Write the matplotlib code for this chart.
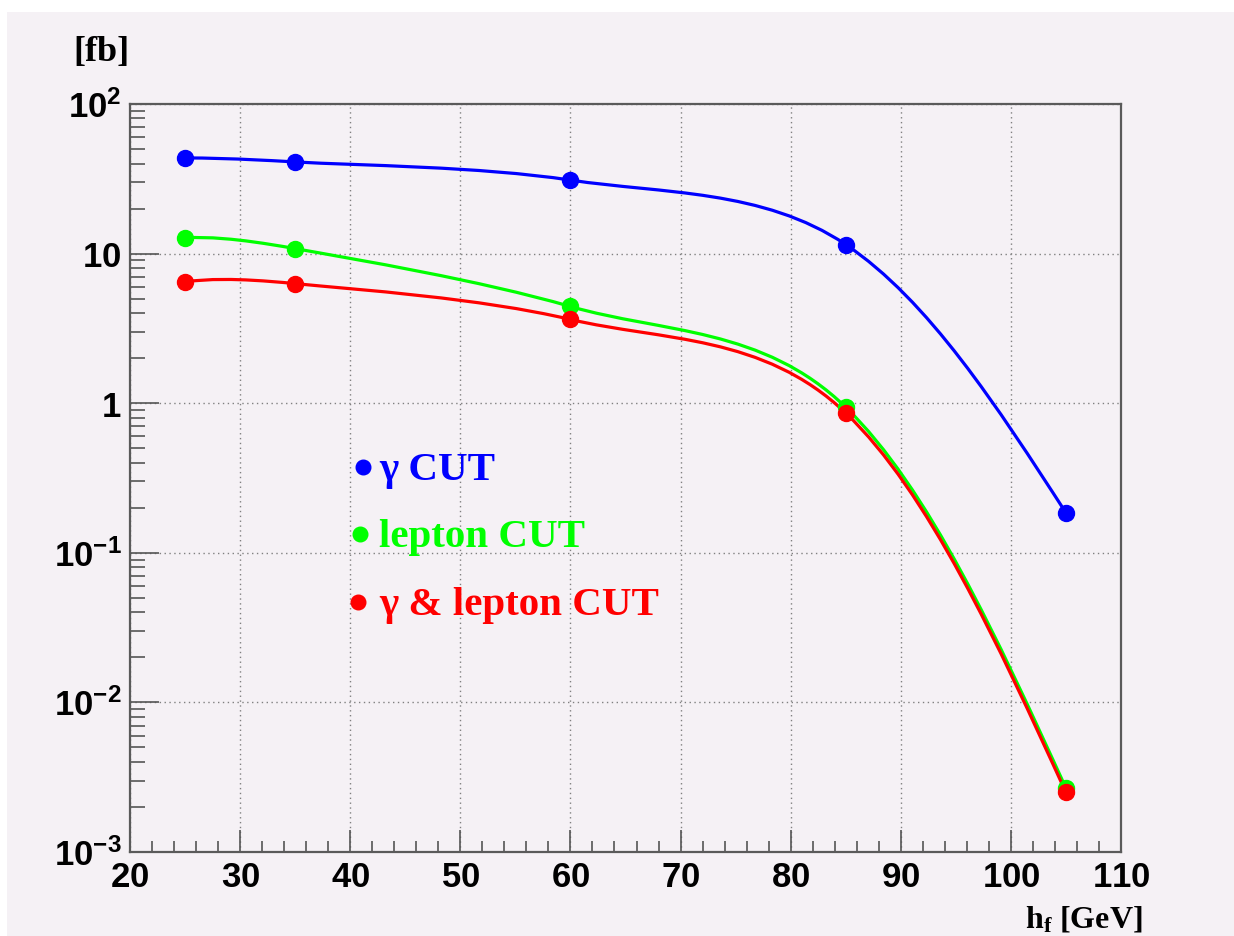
import numpy as np
import matplotlib
matplotlib.use('Agg')
import matplotlib.pyplot as plt
from matplotlib.path import Path
from matplotlib.patches import PathPatch, Rectangle
from matplotlib.lines import Line2D
from matplotlib.ticker import FixedLocator, LogLocator, NullFormatter, FuncFormatter

plt.rcParams['mathtext.fontset'] = 'custom'
plt.rcParams['mathtext.sf'] = 'Liberation Sans:bold'
plt.rcParams['mathtext.bf'] = 'Liberation Serif:bold'
plt.rcParams['mathtext.rm'] = 'Liberation Serif:bold'
plt.rcParams['axes.unicode_minus'] = False

# data
hf = [25, 35, 60, 85, 105]
gamma_cut = [43.6, 41.0, 31.0, 11.5, 0.185]
lepton_cut = [12.8, 10.8, 4.43, 0.94, 0.00267]
both_cut = [6.5, 6.3, 3.63, 0.86, 0.0025]

series = [
    (gamma_cut, '#0000ff', '\u03b3 CUT'),
    (lepton_cut, '#00ff00', 'lepton CUT'),
    (both_cut, '#ff0000', '\u03b3 & lepton CUT'),
]
bg = '#f5f1f5'
W, H = 1234, 936


def smooth_path(xs, ys):
    # hermite/bezier curve through the points in (x, log10 y), natural ends
    p = np.column_stack([np.asarray(xs, float), np.log10(ys)])
    n = len(p)
    t = np.zeros_like(p)
    for i in range(1, n - 1):
        t[i] = (p[i + 1] - p[i - 1]) / 2
    t[0] = (3 * (p[1] - p[0]) - t[1]) / 2
    t[-1] = (3 * (p[-1] - p[-2]) - t[-2]) / 2
    verts = [p[0]]
    codes = [Path.MOVETO]
    for i in range(n - 1):
        verts += [p[i] + t[i] / 3, p[i + 1] - t[i + 1] / 3, p[i + 1]]
        codes += [Path.CURVE4] * 3
    verts = np.array(verts)
    verts[:, 1] = 10 ** verts[:, 1]
    return Path(verts, codes)


fig = plt.figure(figsize=(W / 100, H / 100), dpi=100, facecolor='white')
fig.patches.append(Rectangle((7 / W, 0), 1 - 7 / W, 1 - 12 / H,
                             transform=fig.transFigure, facecolor=bg,
                             edgecolor='none', zorder=-5))

ax = fig.add_axes([130 / W, 1 - 852 / H, (1121 - 130) / W, (852 - 104) / H])
ax.set_facecolor(bg)
ax.set_yscale('log')
ax.set_xlim(20, 110)
ax.set_ylim(1e-3, 1e2)

for vals, col, lab in series:
    ax.add_patch(PathPatch(smooth_path(hf, vals), facecolor='none',
                           edgecolor=col, lw=2.3, zorder=3))
    ax.plot(hf, vals, 'o', color=col, ms=11.5, zorder=4)

ax.xaxis.set_major_locator(FixedLocator(np.arange(20, 111, 10)))
ax.xaxis.set_minor_locator(FixedLocator(np.arange(20, 111, 2)))
ax.yaxis.set_major_locator(LogLocator(base=10, numticks=10))
ax.yaxis.set_minor_locator(LogLocator(base=10, subs=np.arange(2, 10), numticks=20))
ax.yaxis.set_minor_formatter(NullFormatter())


def ylab(v, pos):
    e = int(round(np.log10(v)))
    if e == 0:
        return r'$\mathsf{1}$'
    if e == 1:
        return r'$\mathsf{10}$'
    return r'$\mathsf{10^{%d}}$' % e


ax.yaxis.set_major_formatter(FuncFormatter(ylab))
ax.xaxis.set_major_formatter(FuncFormatter(lambda v, p: r'$\mathsf{%d}$' % v))

ax.grid(True, which='major', color='#808080', linestyle=(0, (1, 2.5)), lw=1.0)
ax.tick_params(axis='both', which='both', direction='in', colors='#555555',
               labelcolor='black', width=1.2)
ax.tick_params(axis='x', which='major', length=16, pad=6, labelsize=25)
ax.tick_params(axis='x', which='minor', length=8)
ax.tick_params(axis='y', which='major', length=21, pad=6, labelsize=25)
ax.tick_params(axis='y', which='minor', length=11)
for s in ax.spines.values():
    s.set_color('#5a5a5a')
    s.set_linewidth(1.6)

fig.text(73 / W, 1 - 53 / H, '[fb]', family='Liberation Serif',
         weight='bold', fontsize=26, va='center', ha='left')
fig.text(1025 / W, 1 - 927 / H, r'$\mathbf{h_{f}}$ [GeV]', family='Liberation Serif',
         weight='bold', fontsize=23, va='baseline', ha='left')

# legend: bullet + coloured label
base_y = [480, 547, 615]
bullet_x = [363, 360, 358]
for (vals, col, lab), by, bx in zip(series, base_y, bullet_x):
    fig.add_artist(Line2D([bx / W], [1 - (by - 13) / H], marker='o', ms=10.5,
                          color=col, transform=fig.transFigure, linestyle='none'))
    fig.text(379 / W, 1 - by / H, lab, color=col, family='Liberation Serif',
             weight='bold', fontsize=29.5, va='baseline', ha='left')

fig.savefig('out.png', dpi=100, facecolor='white')
